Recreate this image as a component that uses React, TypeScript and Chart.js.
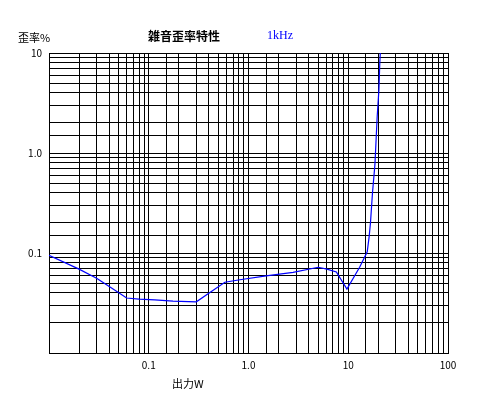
import React, { useEffect, useRef } from 'react';
import { Chart, registerables } from 'chart.js';

Chart.register(...registerables);

// 出力 (W)
const outputW = [
  0.01, 0.02, 0.03, 0.042, 0.06, 0.08, 0.115, 0.175, 0.25, 0.3, 0.39, 0.58, 0.82,
  1.5, 2.8, 5.0, 6.1, 7.6, 9.7, 13, 15.5, 16.2, 16.7, 17.5, 18.5, 19.5, 20.3, 20.7, 21,
];
// 歪率 (%)
const distortionPct = [
  0.095, 0.069, 0.056, 0.045, 0.0355, 0.0345, 0.034, 0.033, 0.0326, 0.0325, 0.039, 0.051, 0.054,
  0.059, 0.064, 0.072, 0.069, 0.0646, 0.0435, 0.072, 0.103, 0.146, 0.2, 0.4, 0.76, 2.3, 4.3, 7.8, 10.5,
];

const xLabelValues = [0.1, 1, 10, 100];
const xLabelTexts = ['0.1', '1.0', '10', '100'];
const yLabelValues = [0.1, 1, 10];
const yLabelTexts = ['0.1', '1.0', '10'];

const titleText = '雑音歪率特性';
const freqText = '1kHz';
const yTitleText = '歪率%';
const xTitleText = '出力W';

function pickLabel(value: number, values: number[], texts: string[]) {
  const i = values.findIndex((v) => Math.abs(v - value) / v < 1e-6);
  return i >= 0 ? texts[i] : '';
}

export default function App() {
  const canvasRef = useRef<HTMLCanvasElement | null>(null);

  useEffect(() => {
    const canvas = canvasRef.current;
    if (!canvas) return;
    const tickFont = { family: '"Noto Sans CJK JP", "DejaVu Sans", sans-serif', size: 10 };
    const chart = new Chart(canvas, {
      type: 'line',
      data: {
        datasets: [
          {
            data: outputW.map((x, i) => ({ x, y: distortionPct[i] })),
            borderColor: '#0000ff',
            borderWidth: 1.2,
            pointRadius: 0,
            tension: 0,
            fill: false,
          },
        ],
      },
      options: {
        animation: false,
        responsive: false,
        devicePixelRatio: 1,
        layout: { padding: { left: 0, top: 53, right: 35, bottom: 39 } },
        plugins: { legend: { display: false }, tooltip: { enabled: false }, title: { display: false } },
        scales: {
          x: {
            type: 'logarithmic',
            min: 0.01,
            max: 100,
            afterFit: (s: any) => {
              s.height = 20;
            },
            grid: { color: '#000', lineWidth: 1, drawTicks: false },
            border: { display: true, color: '#000', width: 1 },
            ticks: {
              autoSkip: false,
              maxRotation: 0,
              padding: 6,
              color: '#000',
              font: tickFont,
              callback: (v: any) => pickLabel(Number(v), xLabelValues, xLabelTexts),
            },
          },
          y: {
            type: 'logarithmic',
            min: 0.01,
            max: 10,
            afterFit: (s: any) => {
              s.width = 49;
            },
            grid: { color: '#000', lineWidth: 1, drawTicks: false },
            border: { display: true, color: '#000', width: 1 },
            ticks: {
              autoSkip: false,
              padding: 7,
              color: '#000',
              font: tickFont,
              callback: (v: any) => pickLabel(Number(v), yLabelValues, yLabelTexts),
            },
          },
        },
      },
    });
    return () => chart.destroy();
  }, []);

  const cjk = '"Noto Sans CJK JP", sans-serif';
  const base: React.CSSProperties = { position: 'absolute', whiteSpace: 'nowrap', margin: 0 };

  return (
    <div style={{ position: 'fixed', left: 0, top: 0, width: 483, height: 412, background: '#fff' }}>
      <canvas ref={canvasRef} width={483} height={412} style={{ position: 'absolute', left: 0, top: 0 }} />
      <div style={{ ...base, left: 18, top: 30, fontFamily: cjk, fontSize: 11, lineHeight: '14px', color: '#000' }}>
        {yTitleText}
      </div>
      <div style={{ ...base, left: 148, top: 29, fontFamily: cjk, fontSize: 12, fontWeight: 'bold', lineHeight: '14px', color: '#000' }}>
        {titleText}
      </div>
      <div style={{ ...base, left: 267, top: 28, fontFamily: '"Liberation Serif", serif', fontSize: 12, lineHeight: '14px', color: '#0000ff' }}>
        {freqText}
      </div>
      <div style={{ ...base, left: 172, top: 376, fontFamily: cjk, fontSize: 11, lineHeight: '14px', color: '#000' }}>
        {xTitleText}
      </div>
    </div>
  );
}
